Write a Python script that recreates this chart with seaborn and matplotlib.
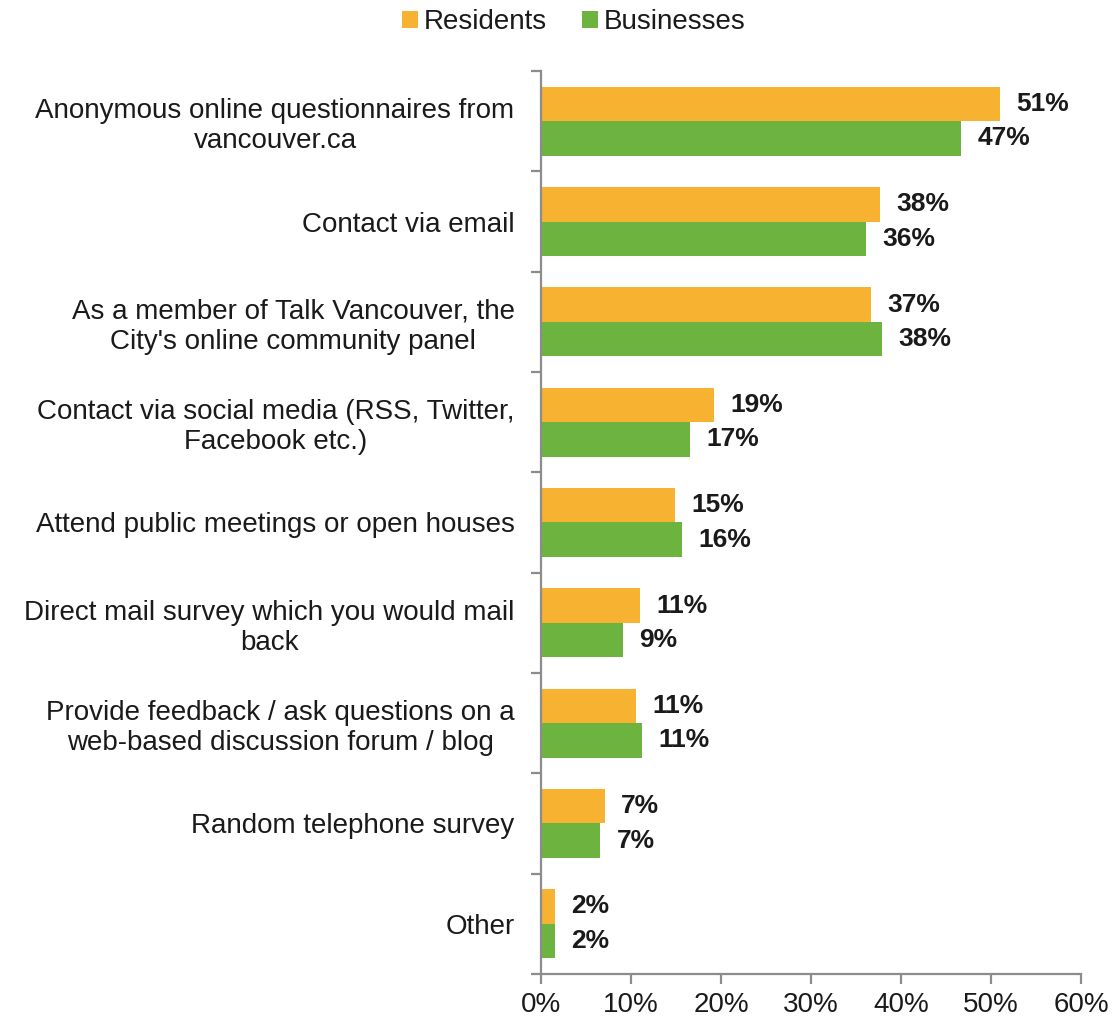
import matplotlib
matplotlib.use("Agg")
import matplotlib.pyplot as plt
from matplotlib.ticker import FixedLocator, PercentFormatter
from matplotlib.patches import Patch
import seaborn as sns
import pandas as pd

# Preferred ways of giving feedback to the City (% of respondents)
categories = [
    "Anonymous online questionnaires from\nvancouver.ca",
    "Contact via email",
    "As a member of Talk Vancouver, the\nCity's online community panel",
    "Contact via social media (RSS, Twitter,\nFacebook etc.)",
    "Attend public meetings or open houses",
    "Direct mail survey which you would mail\nback",
    "Provide feedback / ask questions on a\nweb-based discussion forum / blog",
    "Random telephone survey",
    "Other",
]
residents = [51.0, 37.7, 36.7, 19.2, 14.9, 11.0, 10.6, 7.1, 1.6]
businesses = [46.7, 36.1, 37.9, 16.6, 15.7, 9.1, 11.2, 6.6, 1.6]
series = ["Residents", "Businesses"]
colors = ["#F7B232", "#6DB33F"]
x_ticks = [0, 10, 20, 30, 40, 50, 60]

df = pd.DataFrame({
    "category": categories * 2,
    "series": [series[0]] * len(categories) + [series[1]] * len(categories),
    "value": residents + businesses,
})

sns.set_theme(style="white")
plt.rcParams["font.family"] = ["Liberation Sans", "DejaVu Sans"]
text_color = "#1a1a1a"
spine_color = "#8c8c8c"

fig = plt.figure(figsize=(11.14, 10.19), dpi=100)
ax = fig.add_axes([0.4856, 0.0442, 0.9704 - 0.4856, 0.9303 - 0.0442])

sns.barplot(
    data=df, y="category", x="value", hue="series", order=categories,
    hue_order=series, palette=colors, orient="h", width=0.69, gap=0,
    saturation=1, legend=False, linewidth=0, edgecolor="none", ax=ax,
)

# value labels at the end of each bar
for container in ax.containers:
    for bar in container:
        w = bar.get_width()
        ax.text(w + 1.8, bar.get_y() + bar.get_height() / 2, f"{w:.0f}%",
                ha="left", va="center", fontsize=19, fontweight="bold",
                color=text_color)

ax.set_xlim(0, 60)
ax.set_ylim(len(categories) - 0.5, -0.5)
ax.xaxis.set_major_locator(FixedLocator(x_ticks))
ax.xaxis.set_major_formatter(PercentFormatter(decimals=0))
ax.set_xlabel("")
ax.set_ylabel("")

for side in ["top", "right"]:
    ax.spines[side].set_visible(False)
for side in ["left", "bottom"]:
    ax.spines[side].set_color(spine_color)
    ax.spines[side].set_linewidth(1.6)

# category separators as minor ticks on the y axis
ax.yaxis.set_minor_locator(FixedLocator([i - 0.5 for i in range(len(categories) + 1)]))
ax.tick_params(axis="y", which="major", length=0, pad=19, labelsize=20,
               labelcolor=text_color)
ax.tick_params(axis="y", which="minor", left=True, length=7, width=1.6,
               color=spine_color, direction="out")
ax.tick_params(axis="x", which="major", bottom=True, length=7, width=1.6,
               color=spine_color, direction="out", pad=6, labelsize=20,
               labelcolor=text_color)
for lbl in ax.get_yticklabels():
    lbl.set_multialignment("center")

handles = [Patch(facecolor=c, edgecolor="none") for c in colors]
fig.legend(handles, series, loc="center", bbox_to_anchor=(0.515, 0.978),
           ncol=2, frameon=False, fontsize=20, handlelength=0.6,
           handleheight=0.6, handletextpad=0.2, columnspacing=1.25,
           labelcolor=text_color)

fig.savefig("out.png", dpi=100, facecolor="white")
